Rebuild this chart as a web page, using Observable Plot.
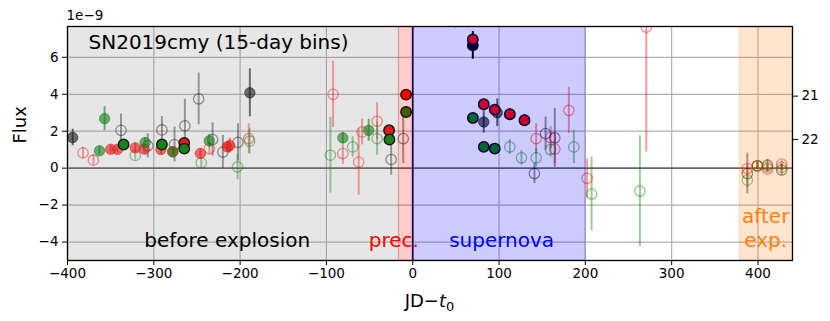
<!DOCTYPE html>
<html>
<head>
<meta charset="utf-8">
<script src="https://cdn.jsdelivr.net/npm/d3@7"></script>
<script src="https://cdn.jsdelivr.net/npm/@observablehq/plot@0.6"></script>
<style>
  html, body { margin: 0; padding: 0; background: #fff; }
  #chart { width: 830px; height: 321px; }
</style>
</head>
<body>
<div id="chart"></div>
<script>
// significance code: 2 = significant (black edge), 1 = marginal (filled), 0 = non-detection (open)
const redT = [-382, -370, -350, -342, -321.5, -311, -291.7, -278, -264.7, -246, -235.7, -215, -212, -190, -92.3, -81, -62.6, -58.7, -41.3, -27.4, -7.7, 69.6, 82.3, 95, 112.5, 129.5, 143, 159.7, 164.6, 180.9, 202, 270.6, 387.7, 399.3, 411, 427.5];
const redF = [0.83, 0.43, 1.02, 1.02, 1.10, 1.03, 1.01, 0.90, 1.37, 0.80, 1.06, 1.15, 1.22, 1.60, 4.00, 0.79, 0.33, 1.96, 2.54, 2.05, 3.98, 6.97, 3.46, 3.17, 2.92, 2.59, 1.60, 1.66, 1.03, 3.13, -0.55, 7.64, -0.02, 0.13, -0.05, 0.22];
const redE = [0.30, 0.30, 0.20, 0.20, 0.25, 0.25, 0.25, 0.25, 0.20, 0.25, 0.35, 0.30, 0.40, 0.80, 1.80, 0.60, 1.80, 0.70, 1.00, 0.25, 0.25, 0.30, 0.25, 0.25, 0.30, 0.30, 0.80, 0.60, 0.80, 1.25, 1.05, 6.76, 0.25, 0.20, 0.20, 0.20];
const redS = [0, 0, 1, 1, 1, 1, 1, 1, 2, 1, 0, 1, 1, 0, 0, 0, 0, 0, 0, 2, 2, 2, 2, 2, 2, 2, 0, 0, 0, 0, 0, 0, 0, 0, 0, 0];

const greenT = [-363, -357, -335, -321.5, -310, -290.6, -278, -264.7, -245, -235.7, -203, -189, -95.4, -81, -69.6, -51, -41.3, -27, -7.7, 49.5, 69.7, 82.3, 95, 112.5, 126, 143, 159.7, 186.7, 207.2, 263.2, 387.7, 399.3, 411, 427.5];
const greenF = [0.94, 2.68, 1.28, 0.69, 1.39, 1.28, 0.88, 1.06, 0.29, 1.48, 0.07, 1.46, 0.70, 1.64, 1.15, 2.05, 1.60, 1.55, 3.04, 8.30, 2.72, 1.15, 1.06, 1.15, 0.56, 0.56, 1.01, 1.15, -1.40, -1.24, -0.65, 0.13, 0.05, 0.05];
const greenE = [0.20, 0.65, 0.20, 0.25, 0.25, 0.20, 0.25, 0.20, 0.30, 0.35, 0.70, 0.70, 2.05, 0.30, 0.55, 0.60, 0.90, 0.20, 0.30, 0.70, 0.20, 0.20, 0.20, 0.40, 0.40, 0.50, 0.40, 0.90, 2.00, 3.00, 0.40, 0.20, 0.20, 0.20];
const greenS = [1, 1, 2, 0, 1, 2, 1, 2, 0, 1, 0, 0, 0, 1, 0, 1, 0, 2, 2, 2, 2, 2, 2, 0, 0, 0, 0, 0, 0, 0, 0, 0, 0, 0];

const grayT = [-394, -338, -307, -290.6, -276, -264, -248, -231.9, -220, -202.5, -188.7, -25, -11, 69.6, 82.3, 97.9, 141, 153.9, 164.6, 387.7, 399.3, 411, 427.5];
const grayF = [1.66, 2.05, 1.21, 2.07, 1.28, 2.29, 3.75, 1.55, 0.87, 1.40, 4.08, 0.47, 1.60, 6.65, 2.50, 3.00, -0.29, 1.87, 1.64, -0.29, 0.13, 0.16, -0.10];
const grayE = [0.45, 0.88, 0.65, 0.72, 0.95, 1.45, 1.40, 0.90, 0.90, 1.00, 1.30, 0.85, 1.35, 0.75, 0.60, 0.75, 0.55, 0.90, 1.60, 1.10, 0.20, 0.30, 0.30];
const grayS = [1, 0, 0, 0, 0, 0, 0, 0, 0, 0, 1, 0, 0, 2, 1, 1, 0, 0, 0, 0, 0, 0, 0];

// shaded epochs
const spanNames = ["before explosion", "prec.", "supernova", "after exp."];
const spanStart = [-400, -16, 0, 379];
const spanEnd = [-16, 0, 200, 440];
const spanColors = ["gray", "red", "blue", "#ff7f0e"];
const spanLabelX = [-215, -22, 103, 409];
const spanLabels = ["before explosion", "prec.", "supernova", "after\nexp."];

const xTicks = [-400, -300, -200, -100, 0, 100, 200, 300, 400];
const yTicks = [-4, -2, 0, 2, 4, 6];
const magTicks = [21, 22];
const fluxAtMag21 = 3.9;
const xDomain = [-400, 440];
const yDomain = [-5, 7.67];

const bandColors = {red: "red", green: "green", gray: "black"};
function rowsOf(color, T, F, E, S) {
  return T.map((t, i) => ({t, f: F[i], e: E[i], s: S[i], color}));
}
const rows = [
  ...rowsOf(bandColors.gray, grayT, grayF, grayE, grayS),
  ...rowsOf(bandColors.red, redT, redF, redE, redS),
  ...rowsOf(bandColors.green, greenT, greenF, greenE, greenS)
];
const spans = spanNames.map((n, i) => ({name: n, x1: spanStart[i], x2: spanEnd[i], color: spanColors[i]}));
const labels = spanLabels.map((l, i) => ({text: l, x: spanLabelX[i], color: spanColors[i] === "gray" ? "black" : spanColors[i]}));

const barOpacity = [0.4, 0.6, 1];
const minus = d => (d < 0 ? "\u2212" + Math.abs(d) : String(d));
const mag2flux = m => fluxAtMag21 * Math.pow(10, -0.4 * (m - 21));
const flux2mag = f => Math.round(21 - 2.5 * Math.log10(f / fluxAtMag21));

const plot = Plot.plot({
  width: 830,
  height: 321,
  marginLeft: 67,
  marginRight: 38,
  marginTop: 26,
  marginBottom: 61,
  style: {fontFamily: "DejaVu Sans", fontSize: "13.5px", color: "black", background: "white"},
  x: {domain: xDomain},
  y: {domain: yDomain},
  marks: [
    Plot.gridX(xTicks, {stroke: "#b0b0b0", strokeOpacity: 1, strokeWidth: 1.2}),
    Plot.gridY(yTicks, {stroke: "#b0b0b0", strokeOpacity: 1, strokeWidth: 1.2}),
    Plot.ruleY([0], {stroke: "#444", strokeWidth: 1.3}),
    Plot.ruleX([0], {stroke: "black", strokeWidth: 1.6}),
    Plot.ruleX(rows, {x: "t", y1: d => d.f - d.e, y2: d => d.f + d.e, stroke: "color", strokeOpacity: d => barOpacity[d.s], strokeWidth: 2, clip: true}),
    Plot.dot(rows.filter(d => d.s === 0), {x: "t", y: "f", r: 5.2, fill: "none", stroke: "color", strokeOpacity: 0.45, strokeWidth: 1.3, clip: true}),
    Plot.dot(rows.filter(d => d.s === 1), {x: "t", y: "f", r: 5.2, fill: "color", fillOpacity: 0.6, stroke: "color", strokeOpacity: 0.6, strokeWidth: 1, clip: true}),
    Plot.dot(rows.filter(d => d.s === 2), {x: "t", y: "f", r: 5.2, fill: "color", stroke: "black", strokeWidth: 1.5, clip: true}),
    Plot.rect(spans, {x1: "x1", x2: "x2", y1: () => yDomain[0], y2: () => yDomain[1], fill: "color", fillOpacity: 0.2, stroke: "color", strokeOpacity: 0.2, strokeWidth: 1.2, clip: true}),
    Plot.text(labels, {x: "x", text: "text", fill: "color", frameAnchor: "bottom", lineAnchor: "bottom", dy: -14, fontSize: 20, lineHeight: 1.2}),
    Plot.text(["SN2019cmy (15-day bins)"], {frameAnchor: "top-left", textAnchor: "start", lineAnchor: "top", dx: 21, dy: 8, fontSize: 20, fill: "black"}),
    Plot.text(["1e\u22129"], {frameAnchor: "top-left", textAnchor: "start", lineAnchor: "bottom", dx: -1, dy: -7, fontSize: 13.5, fill: "black"}),
    Plot.text(["Flux"], {frameAnchor: "left", rotate: -90, dx: -47, fontSize: 18, fill: "black"}),
    Plot.axisX(xTicks, {tickSize: 5, tickPadding: 3, tickFormat: minus, label: null, fontSize: 13.5}),
    Plot.axisY(yTicks, {tickSize: 5, tickPadding: 4, tickFormat: minus, label: null, fontSize: 13.5}),
    Plot.axisY(magTicks.map(mag2flux), {anchor: "right", tickSize: 5, tickPadding: 4, tickFormat: flux2mag, label: null, fontSize: 13.5}),
    Plot.frame({stroke: "black", strokeWidth: 1.3})
  ]
});

// x-axis label with italic t and subscript 0
const svg = d3.select(plot);
const xl = svg.append("text")
  .attr("x", 67 + (830 - 67 - 38) / 2)
  .attr("y", 307)
  .attr("text-anchor", "middle")
  .attr("font-size", 18)
  .attr("font-family", "DejaVu Sans")
  .attr("fill", "black");
xl.append("tspan").text("JD\u2212");
xl.append("tspan").attr("font-style", "italic").text("t");
xl.append("tspan").attr("font-size", 13).attr("dy", 4).text("0");

document.getElementById("chart").appendChild(plot);
</script>
</body>
</html>
